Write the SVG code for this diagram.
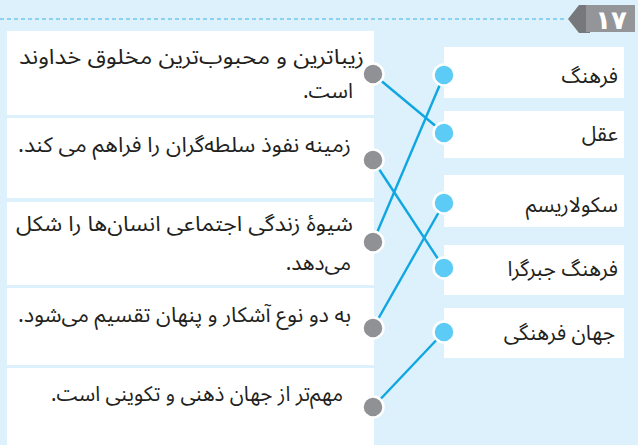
<svg xmlns="http://www.w3.org/2000/svg" width="638" height="445" viewBox="0 0 638 445">
<style>
.bg{fill:#dcf1fb}
.box{fill:#ffffff}
.t{font-family:"Noto Sans Arabic","DejaVu Sans",sans-serif;font-size:21px;fill:#231f20;direction:rtl;text-anchor:start}
.r{font-family:"Noto Sans Arabic","DejaVu Sans",sans-serif;font-size:21px;fill:#231f20;direction:rtl;text-anchor:start}
.g{fill:#909195;stroke:#ffffff;stroke-width:2.5}
.b{fill:#5ccbf6;stroke:#ffffff;stroke-width:2.5}
.ln{stroke:#10a6e2;stroke-width:2.4;fill:none}
</style>
<rect class="bg" x="0" y="0" width="638" height="445"/>
<line x1="0" y1="19" x2="566" y2="19" stroke="#3ab1e8" stroke-width="1.2" stroke-dasharray="4 3"/>
<g id="tab">
<polygon points="568,19 579,5 590,5 590,33 579,33" fill="#77787b"/>
<rect x="586" y="5" width="49" height="27" fill="#939598"/>
<text x="611" y="29" font-family="'DejaVu Sans',sans-serif" font-size="26" font-weight="bold" fill="#ffffff" text-anchor="middle">۱۷</text>
</g>
<g id="connectors">
<line class="ln" x1="373" y1="74" x2="444" y2="133"/>
<line class="ln" x1="444" y1="75" x2="373" y2="242"/>
<line class="ln" x1="373" y1="160" x2="444" y2="268"/>
<line class="ln" x1="444" y1="203" x2="373" y2="328"/>
<line class="ln" x1="444" y1="332" x2="373" y2="407"/>
</g>
<g id="left1"><rect class="box" x="7" y="31" width="367" height="84"/><text class="t" x="364" y="64" textLength="345" lengthAdjust="spacingAndGlyphs">زیباترین و محبوب‌ترین مخلوق خداوند</text><text class="t" x="353" y="98">است.</text><circle class="g" cx="373" cy="74" r="10.5"/></g>
<g id="left2"><rect class="box" x="7" y="118" width="367" height="80"/><text class="t" x="351" y="152" textLength="333" lengthAdjust="spacingAndGlyphs">زمینه نفوذ سلطه‌گران را فراهم می کند.</text><circle class="g" cx="373" cy="160" r="10.5"/></g>
<g id="left3"><rect class="box" x="7" y="202" width="367" height="83"/><text class="t" x="353" y="231" textLength="337" lengthAdjust="spacingAndGlyphs">شیوهٔ زندگی اجتماعی انسان‌ها را شکل</text><text class="t" x="351" y="270">می‌دهد.</text><circle class="g" cx="373" cy="242" r="10.5"/></g>
<g id="left4"><rect class="box" x="7" y="288" width="367" height="77"/><text class="t" x="351" y="322" textLength="333" lengthAdjust="spacingAndGlyphs">به دو نوع آشکار و پنهان تقسیم می‌شود.</text><circle class="g" cx="373" cy="328" r="10.5"/></g>
<g id="left5"><rect class="box" x="7" y="368" width="367" height="77"/><text class="t" x="343" y="401" textLength="292" lengthAdjust="spacingAndGlyphs">مهم‌تر از جهان ذهنی و تکوینی است.</text><circle class="g" cx="373" cy="407" r="10.5"/></g>
<g id="right1"><rect class="box" x="444" y="47" width="180" height="51"/><text class="r" x="618" y="83">فرهنگ</text><circle class="b" cx="444" cy="75" r="10.5"/></g>
<g id="right2"><rect class="box" x="444" y="111" width="180" height="47"/><text class="r" x="618" y="141">عقل</text><circle class="b" cx="444" cy="133" r="10.5"/></g>
<g id="right3"><rect class="box" x="444" y="175" width="180" height="52"/><text class="r" x="618" y="212">سکولاریسم</text><circle class="b" cx="444" cy="203" r="10.5"/></g>
<g id="right4"><rect class="box" x="444" y="245" width="180" height="50"/><text class="r" x="618" y="276">فرهنگ جبرگرا</text><circle class="b" cx="444" cy="268" r="10.5"/></g>
<g id="right5"><rect class="box" x="444" y="308" width="180" height="50"/><text class="r" x="615" y="340">جهان فرهنگی</text><circle class="b" cx="444" cy="332" r="10.5"/></g>
</svg>
